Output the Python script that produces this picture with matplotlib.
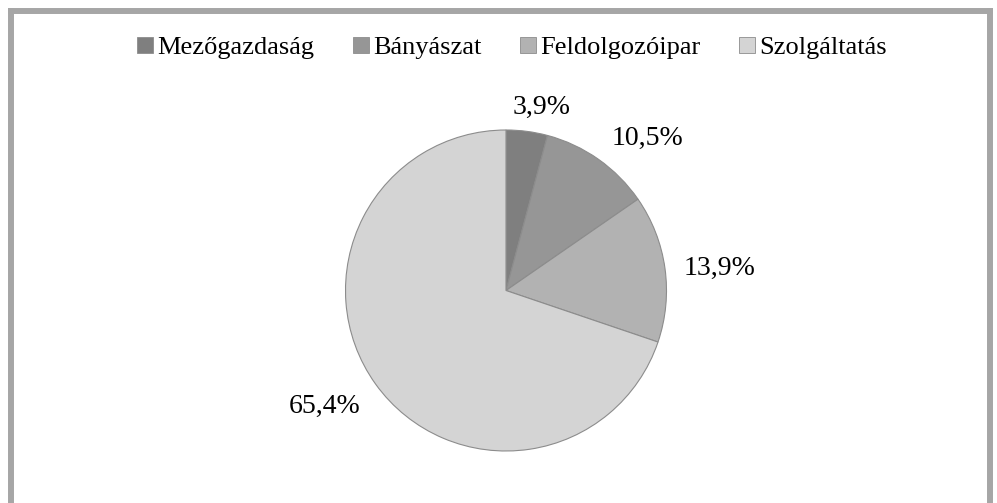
import numpy as np
import matplotlib.pyplot as plt
from matplotlib.patches import Rectangle
from matplotlib.lines import Line2D

plt.rcParams['font.family'] = ['Liberation Serif', 'DejaVu Serif']

# Sector shares (%)
sectors = ['Mezőgazdaság', 'Bányászat', 'Feldolgozóipar', 'Szolgáltatás']
shares = [3.9, 10.5, 13.9, 65.4]
labels = ['3,9%', '10,5%', '13,9%', '65,4%']
colors = ['#7f7f7f', '#969696', '#b2b2b2', '#d4d4d4']

fig = plt.figure(figsize=(9.97, 5.03), dpi=100)

# grey frame (left, top, right; bottom is cropped off)
W, H = 997, 503
frame_col = '#a6a6a6'
lw = 4.3
fig.add_artist(Line2D([11 / W, 11 / W], [0, 1 - 11 / H], color=frame_col, lw=lw,
                      solid_capstyle='projecting', transform=fig.transFigure))
fig.add_artist(Line2D([11 / W, 990 / W], [1 - 11 / H, 1 - 11 / H], color=frame_col, lw=lw,
                      solid_capstyle='projecting', transform=fig.transFigure))
fig.add_artist(Line2D([990 / W, 990 / W], [0, 1 - 11 / H], color=frame_col, lw=lw,
                      solid_capstyle='projecting', transform=fig.transFigure))

# pie axes: centre ~ (506, 290) px, radius ~161 px
ax = fig.add_axes([345.5 / W, 1 - 451 / H, 321 / W, 321 / H])
wedges, _ = ax.pie(shares, colors=colors, startangle=90, counterclock=False,
                   wedgeprops=dict(edgecolor='#8c8c8c', linewidth=0.8))
ax.set_xlim(-1, 1)
ax.set_ylim(-1, 1)
ax.set_aspect('equal')
ax.axis('off')

# label placement (Excel "best fit" style: radius, angle shift from wedge mid-angle)
offsets = [(1.18, -3.2), (1.31, -7.3), (1.34, -1.3), (1.33, -3.6)]
for w, lab, (r, dang) in zip(wedges, labels, offsets):
    ang = np.deg2rad((w.theta1 + w.theta2) / 2 + dang)
    ax.text(r * np.cos(ang), r * np.sin(ang), lab, ha='center', va='center_baseline',
            fontsize=20)

handles = [Rectangle((0, 0), 1, 1, facecolor=c, edgecolor='#8c8c8c', lw=0.6) for c in colors]
fig.legend(handles, sectors, loc='center', bbox_to_anchor=(512 / W, 1 - 48 / H), ncol=4,
           frameon=False, fontsize=19, handlelength=0.6, handleheight=0.6,
           handletextpad=0.15, columnspacing=1.48)

fig.savefig('out.png', dpi=100)
